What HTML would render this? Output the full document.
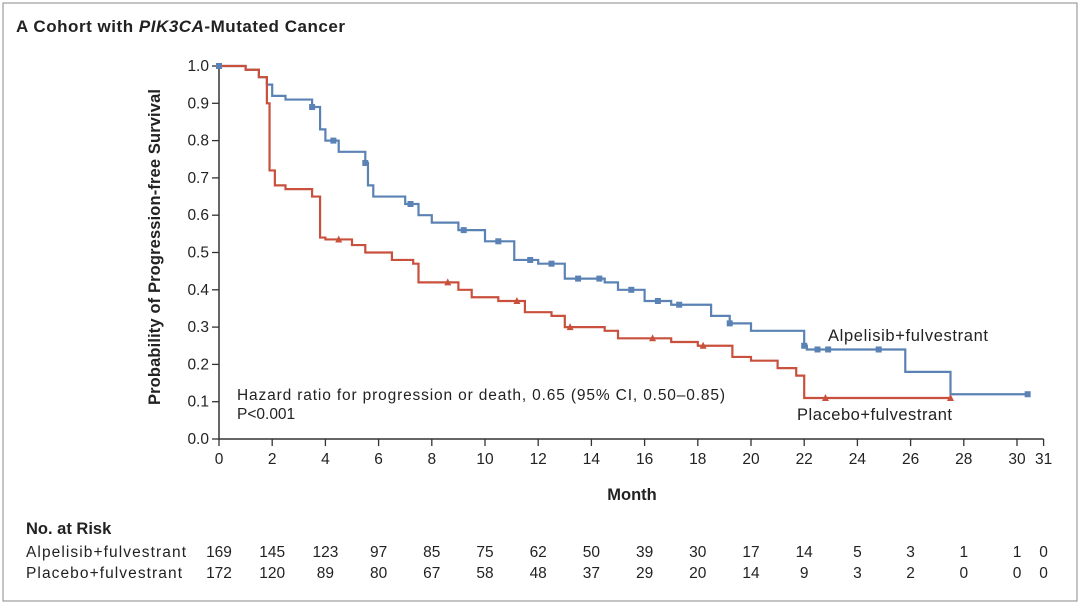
<!DOCTYPE html>
<html><head><meta charset="utf-8"><style>
body{margin:0;background:#fff;}
svg{display:block;font-family:"Liberation Sans",sans-serif;}
</style></head><body>
<svg id="c" width="1080" height="604">
<rect x="3" y="3" width="1074" height="598" fill="#fff" stroke="#888" stroke-width="1"/>
<text x="16" y="32" font-size="17" font-weight="bold" fill="#222" textLength="329">A  Cohort with <tspan font-style="italic">PIK3CA</tspan>-Mutated Cancer</text>
<g id="axes"></g>
<g id="series"></g>
<text x="237" y="400" font-size="15.5" fill="#222" textLength="488">Hazard ratio for progression or death, 0.65 (95% CI, 0.50–0.85)</text>
<text x="237" y="419" font-size="15.5" fill="#222">P&lt;0.001</text>
<text x="828" y="341" font-size="16.5" fill="#222" textLength="160">Alpelisib+fulvestrant</text>
<text x="797" y="420" font-size="16.5" fill="#222" textLength="155">Placebo+fulvestrant</text>
<text x="632" y="500" font-size="16.5" font-weight="bold" fill="#222" text-anchor="middle">Month</text>
<text transform="translate(160,247) rotate(-90)" font-size="16.5" font-weight="bold" fill="#222" text-anchor="middle" textLength="316">Probability of Progression-free Survival</text>
<text x="26" y="534" font-size="16.5" font-weight="bold" fill="#222">No. at Risk</text>
<text x="26" y="557" font-size="15.5" fill="#222" textLength="160">Alpelisib+fulvestrant</text>
<text x="26" y="578" font-size="15.5" fill="#222" textLength="156">Placebo+fulvestrant</text>
<g id="risk"></g>
</svg>
<script>
const xTicks=[0,2,4,6,8,10,12,14,16,18,20,22,24,26,28,30,31];
const yTicks=[0,0.1,0.2,0.3,0.4,0.5,0.6,0.7,0.8,0.9,1.0];
const blueT=[0,1,1.5,1.8,2,2.5,3.5,3.8,4,4.5,5.5,5.6,5.8,7,7.5,8,9,10,11,11.1,12,13,14.5,15,16,17,18.5,19.2,20,22,22.1,25.8,27.5,30.5];
const blueS=[1,0.99,0.97,0.95,0.92,0.91,0.89,0.83,0.80,0.77,0.74,0.68,0.65,0.63,0.60,0.58,0.56,0.53,0.53,0.48,0.47,0.43,0.42,0.40,0.37,0.36,0.33,0.31,0.29,0.25,0.24,0.18,0.12,0.12];
const redT=[0,1,1.5,1.8,1.9,2.1,2.5,3.5,3.8,4,5,5.5,6.5,7.3,7.5,9,9.5,10.5,11.5,12.5,13,14.5,15,17,18,19.3,20,21,21.7,22,27.5];
const redS=[1,0.99,0.97,0.90,0.72,0.68,0.67,0.65,0.54,0.535,0.52,0.50,0.48,0.47,0.42,0.40,0.38,0.37,0.34,0.33,0.30,0.29,0.27,0.26,0.25,0.22,0.21,0.19,0.17,0.11,0.11];
const blueCens=[0,3.5,4.3,5.5,7.2,9.2,10.5,11.7,12.5,13.5,14.3,15.5,16.5,17.3,19.2,22,22.5,22.9,24.8,30.4];
const redCens=[4.5,8.6,11.2,13.2,16.3,18.2,22.8,27.5];
const riskA=[169,145,123,97,85,75,62,50,39,30,17,14,5,3,1,1,0];
const riskP=[172,120,89,80,67,58,48,37,29,20,14,9,3,2,0,0,0];
const NS='http://www.w3.org/2000/svg';
const X=m=>219+m*26.6, Y=s=>439-s*373;
function mk(t,a,p){const e=document.createElementNS(NS,t);for(const k in a)e.setAttribute(k,a[k]);if(p)p.appendChild(e);return e;}
const ax=document.getElementById('axes');
let l=mk('path',{d:`M${X(0)},${Y(1)}V${Y(0)}H${X(31)}`,fill:'none',stroke:'#333','stroke-width':1.5},ax);


xTicks.forEach(v=>{
 let t=mk('line',{x1:X(v),x2:X(v),y1:Y(0),y2:Y(0)+7,stroke:'#333','stroke-width':1.3},ax);
 
 
 let tx=mk('text',{x:X(v),y:Y(0)+25,'font-size':15.5,fill:'#222','text-anchor':'middle'},ax);tx.textContent=v;
 
 
});
yTicks.forEach(v=>{
 let t=mk('line',{x1:X(0)-7,x2:X(0),y1:Y(v),y2:Y(v),stroke:'#333','stroke-width':1.3},ax);
 
 
 let tx=mk('text',{x:X(0)-10,y:Y(v)+5,'font-size':15.5,fill:'#222','text-anchor':'end'},ax);tx.textContent=v.toFixed(1);
 
 
});
function surv(T,S,m){let s=S[0];for(let i=0;i<T.length;i++)if(T[i]<=m)s=S[i];return s;}
const sg=document.getElementById('series');
function draw(T,S,col,name){
 let d=`M${X(T[0])},${Y(S[0])}`;
 for(let i=1;i<T.length;i++){d+=`H${X(T[i])}V${Y(S[i])}`;}
 let p=mk('path',{d,fill:'none',stroke:col,'stroke-width':2.2},sg);
 
 
}
draw(blueT,blueS,'#5b82b4','alpelisib-curve');
draw(redT,redS,'#c9503c','placebo-curve');
blueCens.forEach(m=>{
 let r=mk('rect',{x:X(m)-3,y:Y(surv(blueT,blueS,m))-3,width:6,height:6,fill:'#5b82b4'},sg);
 
 
});
redCens.forEach(m=>{
 const x=X(m),y=Y(surv(redT,redS,m));
 let r=mk('path',{d:`M${x-3.5},${y+3}L${x},${y-4}L${x+3.5},${y+3}Z`,fill:'#c9503c'},sg);
 
 
});
const rg=document.getElementById('risk');
xTicks.forEach((v,i)=>{
 let a=mk('text',{x:X(v),y:557,'font-size':15.5,fill:'#222','text-anchor':'middle'},rg);a.textContent=riskA[i];
 
 
 let b=mk('text',{x:X(v),y:578,'font-size':15.5,fill:'#222','text-anchor':'middle'},rg);b.textContent=riskP[i];
 
 
});
</script>
</body></html>
